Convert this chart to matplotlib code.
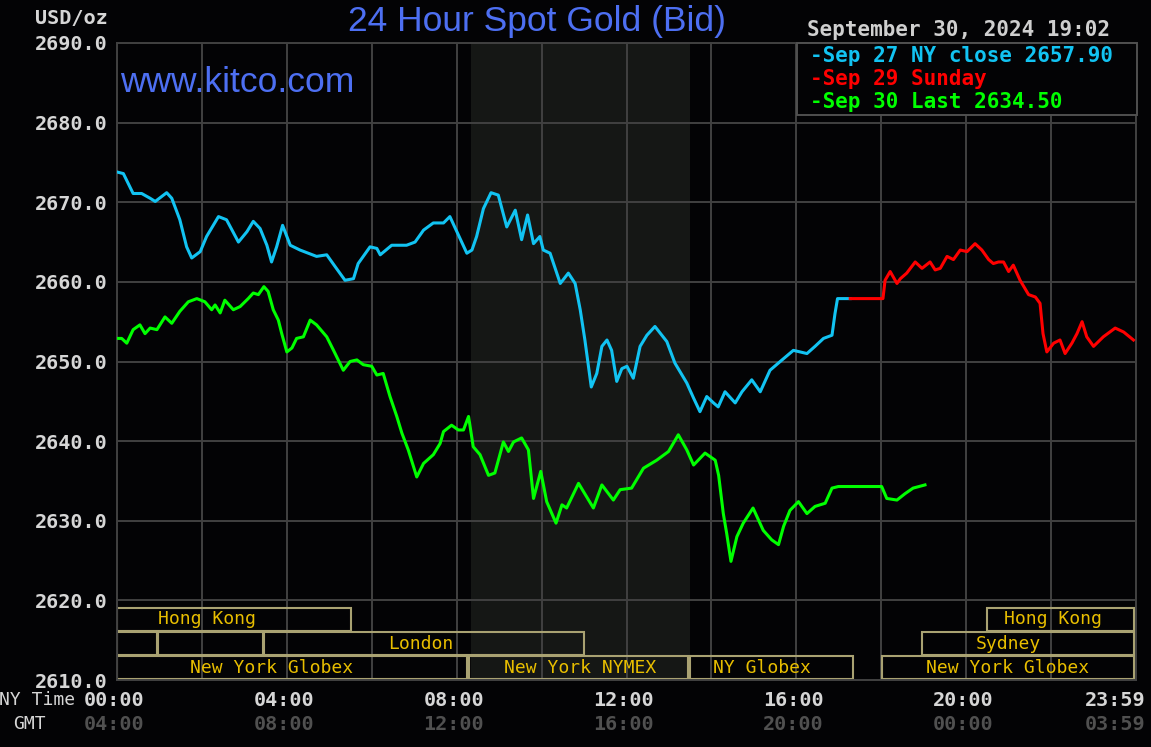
import matplotlib
matplotlib.use("Agg")
import matplotlib.pyplot as plt
from matplotlib.patches import Rectangle

# Sep 27 (Friday) bid, NY time in hours
sep27_hours = [0.00, 0.15, 0.38, 0.58, 0.78, 0.90, 1.17, 1.29, 1.48, 1.64, 1.76, 1.96, 2.11, 2.39, 2.58,
               2.86, 3.06, 3.21, 3.37, 3.53, 3.64, 3.76, 3.90, 4.08, 4.31, 4.70, 4.94, 5.14, 5.37, 5.57,
               5.68, 5.96, 6.12, 6.20, 6.47, 6.82, 7.02, 7.22, 7.45, 7.69, 7.84, 8.04, 8.24, 8.36, 8.47,
               8.63, 8.81, 8.98, 9.18, 9.38, 9.53, 9.67, 9.81, 9.96, 10.04, 10.20, 10.44, 10.63, 10.79,
               10.91, 11.02, 11.17, 11.30, 11.42, 11.54, 11.65, 11.77, 11.89, 12.01, 12.16, 12.32, 12.48,
               12.67, 12.95, 13.14, 13.42, 13.58, 13.73, 13.89, 14.05, 14.16, 14.32, 14.56, 14.72, 14.95,
               15.15, 15.38, 15.62, 15.93, 16.25, 16.44, 16.64, 16.84, 16.91, 16.97, 17.27]
sep27_bid = [2673.8, 2673.6, 2671.1, 2671.1, 2670.5, 2670.1, 2671.2, 2670.5, 2667.8, 2664.4, 2663.0, 2663.8,
             2665.7, 2668.2, 2667.8, 2665.0, 2666.3, 2667.6, 2666.7, 2664.6, 2662.5, 2664.4, 2667.1, 2664.6,
             2664.0, 2663.2, 2663.4, 2661.9, 2660.2, 2660.4, 2662.3, 2664.4, 2664.2, 2663.4, 2664.6, 2664.6,
             2665.0, 2666.5, 2667.4, 2667.4, 2668.2, 2665.9, 2663.6, 2664.0, 2665.7, 2669.2, 2671.2, 2670.9,
             2666.9, 2669.0, 2665.3, 2668.4, 2664.8, 2665.7, 2664.0, 2663.6, 2659.8, 2661.1, 2659.8, 2656.5,
             2652.7, 2646.8, 2648.5, 2651.9, 2652.7, 2651.4, 2647.5, 2649.1, 2649.4, 2647.9, 2651.9, 2653.3,
             2654.4, 2652.5, 2649.8, 2647.3, 2645.4, 2643.7, 2645.6, 2644.8, 2644.3, 2646.2, 2644.8, 2646.2,
             2647.7, 2646.2, 2648.9, 2650.0, 2651.4, 2651.0, 2651.9, 2652.9, 2653.3, 2656.0, 2657.9, 2657.9]

# Sep 29 (Sunday)
sep29_hours = [17.27, 18.04, 18.09, 18.21, 18.37, 18.45, 18.60, 18.80, 18.96, 19.15, 19.27, 19.39, 19.55,
               19.70, 19.86, 20.02, 20.21, 20.37, 20.53, 20.64, 20.76, 20.88, 21.00, 21.11, 21.27, 21.47,
               21.63, 21.74, 21.81, 21.90, 22.06, 22.21, 22.33, 22.49, 22.61, 22.73, 22.84, 23.00, 23.23,
               23.51, 23.71, 23.94]
sep29_bid = [2657.9, 2657.9, 2660.2, 2661.3, 2659.8, 2660.4, 2661.1, 2662.5, 2661.7, 2662.5, 2661.5, 2661.7,
             2663.2, 2662.8, 2664.0, 2663.8, 2664.8, 2664.0, 2662.8, 2662.3, 2662.5, 2662.5, 2661.3, 2662.1,
             2660.2, 2658.4, 2658.1, 2657.3, 2653.5, 2651.2, 2652.3, 2652.7, 2651.0, 2652.3, 2653.5, 2655.0,
             2653.1, 2651.9, 2653.1, 2654.2, 2653.7, 2652.7]

# Sep 30 (Monday)
sep30_hours = [0.00, 0.11, 0.23, 0.38, 0.54, 0.66, 0.78, 0.94, 1.13, 1.29, 1.48, 1.68, 1.88, 2.07, 2.23,
               2.31, 2.43, 2.54, 2.74, 2.90, 3.09, 3.21, 3.33, 3.46, 3.56, 3.68, 3.80, 3.88, 4.00, 4.12,
               4.23, 4.39, 4.55, 4.70, 4.94, 5.10, 5.33, 5.49, 5.65, 5.80, 6.00, 6.12, 6.27, 6.43, 6.59,
               6.71, 6.86, 7.06, 7.22, 7.45, 7.61, 7.69, 7.88, 8.04, 8.16, 8.28, 8.39, 8.55, 8.75, 8.90,
               9.10, 9.22, 9.34, 9.53, 9.69, 9.81, 9.98, 10.12, 10.34, 10.48, 10.59, 10.87, 11.22, 11.42,
               11.69, 11.85, 12.12, 12.40, 12.71, 12.99, 13.22, 13.42, 13.58, 13.85, 14.09, 14.17, 14.28,
               14.36, 14.46, 14.60, 14.75, 14.98, 15.22, 15.42, 15.58, 15.70, 15.85, 16.05, 16.25, 16.44,
               16.68, 16.84, 16.99, 18.01, 18.13, 18.37, 18.56, 18.75, 19.03]
sep30_bid = [2652.9, 2652.9, 2652.3, 2654.0, 2654.6, 2653.5, 2654.2, 2654.0, 2655.6, 2654.8, 2656.3, 2657.5,
             2657.9, 2657.5, 2656.5, 2657.1, 2656.1, 2657.7, 2656.5, 2656.9, 2657.9, 2658.6, 2658.4, 2659.4,
             2658.8, 2656.5, 2655.2, 2653.5, 2651.2, 2651.7, 2652.9, 2653.1, 2655.2, 2654.6, 2653.1, 2651.4,
             2648.9, 2650.0, 2650.2, 2649.6, 2649.4, 2648.3, 2648.5, 2645.6, 2643.1, 2641.0, 2638.9, 2635.5,
             2637.2, 2638.3, 2639.7, 2641.2, 2642.0, 2641.4, 2641.4, 2643.1, 2639.3, 2638.3, 2635.7, 2636.0,
             2639.9, 2638.7, 2639.9, 2640.4, 2638.9, 2632.8, 2636.2, 2632.4, 2629.7, 2632.0, 2631.6, 2634.7,
             2631.6, 2634.5, 2632.6, 2633.9, 2634.1, 2636.6, 2637.6, 2638.7, 2640.8, 2638.9, 2637.0, 2638.5,
             2637.6, 2635.7, 2630.9, 2628.4, 2624.9, 2628.0, 2629.7, 2631.6, 2628.8, 2627.6, 2627.0, 2629.3,
             2631.3, 2632.4, 2630.9, 2631.8, 2632.2, 2634.1, 2634.3, 2634.3, 2632.8, 2632.6, 2633.4, 2634.1,
             2634.5]

y_ticks = [2610, 2620, 2630, 2640, 2650, 2660, 2670, 2680, 2690]
label_hours = [0, 4, 8, 12, 16, 20, 24]
ny_labels = ["00:00", "04:00", "08:00", "12:00", "16:00", "20:00", "23:59"]
gmt_labels = ["04:00", "08:00", "12:00", "16:00", "20:00", "00:00", "03:59"]

# trading sessions: name, start, end, row (0 = bottom), label hour
sessions = [
    ("Hong Kong", 0.0, 5.5, 2, 2.12),
    ("", 0.0, 0.95, 1, None),
    ("", 0.97, 3.45, 1, None),
    ("London", 3.47, 11.0, 1, 7.16),
    ("New York Globex", 0.0, 8.25, 0, 3.65),
    ("New York NYMEX", 8.3, 13.45, 0, 10.9),
    ("NY Globex", 13.5, 17.33, 0, 15.2),
    ("New York Globex", 18.02, 23.95, 0, 20.97),
    ("Sydney", 18.96, 23.95, 1, 21.0),
    ("Hong Kong", 20.5, 23.95, 2, 22.05),
]
nymex_open, nymex_close = 8 + 20 / 60, 13.5

W, H = 1151, 747
bg = "#030305"
grid_c = "#414141"
blue = "#4d6ff2"
cyan_c, red_c, green_c = "#12c3f2", "#ff0000", "#00ff00"
mono = "DejaVu Sans Mono"

fig = plt.figure(figsize=(W / 100, H / 100), dpi=100, facecolor=bg)
ax = fig.add_axes([117 / W, 1 - 680 / H, (1136 - 117) / W, (680 - 43) / H], facecolor=bg)

ax.axvspan(nymex_open, nymex_close, color="#151715", zorder=0.2, lw=0)

ax.plot(sep27_hours, sep27_bid, color=cyan_c, lw=2.2, zorder=3, solid_joinstyle="round")
ax.plot(sep29_hours, sep29_bid, color=red_c, lw=2.2, zorder=3, solid_joinstyle="round")
ax.plot(sep30_hours, sep30_bid, color=green_c, lw=2.2, zorder=3, solid_joinstyle="round")

ax.set_xlim(0, 24)
ax.set_ylim(2610, 2690)
ax.set_xticks(range(0, 25, 2))
ax.set_xticklabels([])
ax.set_yticks(y_ticks)
ax.set_yticklabels([f"{v:.1f}" for v in y_ticks], fontfamily=mono, fontweight="bold",
                   fontsize=14.5, color="#d6d6d6")
ax.tick_params(length=0, pad=6.5)
ax.set_axisbelow(True)
ax.grid(True, color=grid_c, lw=1.4)
for s in ax.spines.values():
    s.set_color(grid_c)
    s.set_linewidth(1.4)

# session boxes
row_h = 2.9
for name, start, end, row, lab in sessions:
    y0 = 2610.1 + 3.03 * row
    ax.add_patch(Rectangle((start, y0), end - start, row_h, fill=False,
                           edgecolor="#a9a272", lw=1.5, zorder=2))
    if name:
        ax.text(lab, y0 + row_h / 2, name, ha="center", va="center", fontfamily=mono,
                fontsize=13, color="#e8be00", zorder=2.5)

# time axis labels
for h, ny, gmt in zip(label_hours, ny_labels, gmt_labels):
    ha, dx = ("right", 9) if h == 24 else ("center", -3)
    ax.annotate(ny, xy=(h, 0), xycoords=("data", "axes fraction"), xytext=(dx, -20),
                textcoords="offset pixels", ha=ha, va="center", fontfamily=mono,
                fontweight="bold", fontsize=14.5, color="#d6d6d6", annotation_clip=False)
    ax.annotate(gmt, xy=(h, 0), xycoords=("data", "axes fraction"), xytext=(dx, -44),
                textcoords="offset pixels", ha=ha, va="center", fontfamily=mono,
                fontweight="bold", fontsize=14.5, color="#505050", annotation_clip=False)

fig.text(75 / W, 1 - 700 / H, "NY Time", ha="right", va="center", fontfamily=mono,
         fontsize=13, color="#d6d6d6")
fig.text(46 / W, 1 - 724 / H, "GMT", ha="right", va="center", fontfamily=mono,
         fontsize=13, color="#d6d6d6")
fig.text(108 / W, 1 - 18 / H, "USD/oz", ha="right", va="center", fontfamily=mono,
         fontweight="bold", fontsize=14.5, color="#d6d6d6")

fig.text(537 / W, 1 - 21 / H, "24 Hour Spot Gold (Bid)", ha="center", va="center",
         fontfamily="Liberation Sans", fontsize=25.5, color=blue)
fig.text(120 / W, 1 - 83 / H, "www.kitco.com", ha="left", va="center",
         fontfamily="Liberation Sans", fontsize=25.5, color=blue)
fig.text(807 / W, 1 - 29.5 / H, "September 30, 2024 19:02", ha="left", va="center",
         fontfamily=mono, fontweight="bold", fontsize=15, color="#cfcfcf")

# legend box
fig.add_artist(Rectangle((797 / W, 1 - 115 / H), (1137 - 797) / W, (115 - 43) / H,
                         transform=fig.transFigure, facecolor=bg, edgecolor="#505050",
                         lw=1.4, zorder=5))
legend_items = [
    (f"-Sep 27 NY close {sep27_bid[-1]:.2f}", cyan_c, 56),
    ("-Sep 29 Sunday", red_c, 79),
    (f"-Sep 30 Last {sep30_bid[-1]:.2f}", green_c, 102),
]
for txt, c, ypx in legend_items:
    fig.text(810 / W, 1 - ypx / H, txt, ha="left", va="center", fontfamily=mono,
             fontweight="bold", fontsize=15, color=c, zorder=6)

fig.savefig("out.png", dpi=100, facecolor=bg)
